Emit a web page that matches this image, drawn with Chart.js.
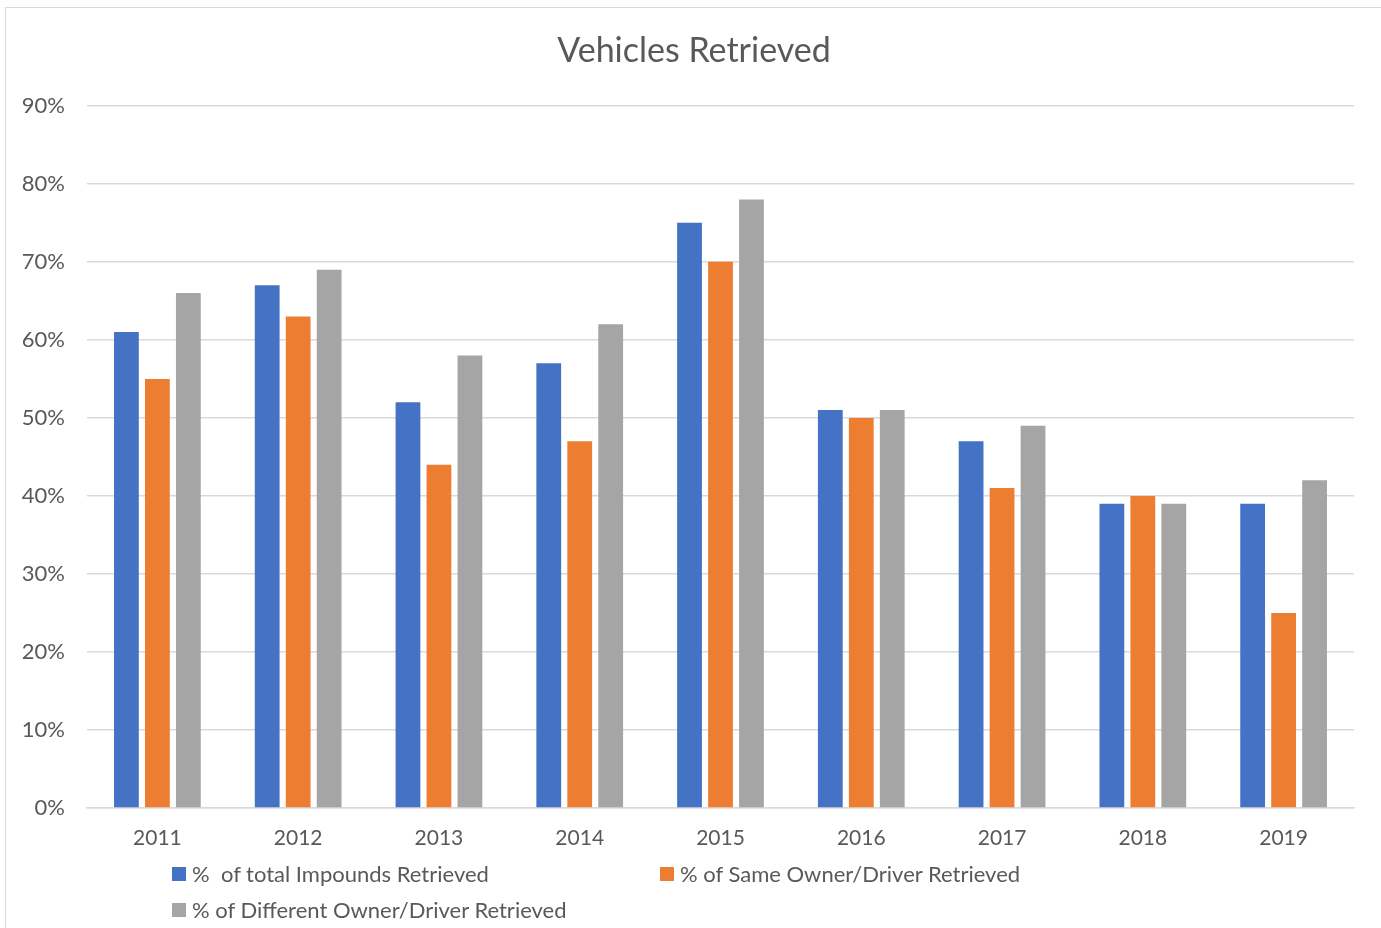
<!DOCTYPE html>
<html lang="en">
<head>
  <meta charset="UTF-8">
  <title>Vehicles Retrieved</title>
  <script src="https://cdn.jsdelivr.net/npm/chart.js"></script>
  <style>
    * { box-sizing: border-box; margin: 0; padding: 0; }
    body {
      width: 1381px;
      height: 928px;
      background: #fff;
      overflow: hidden;
      font-family: Lato, 'Open Sans', sans-serif;
      position: relative;
    }
    /* light frame around the chart, like the spreadsheet chart box */
    .frame {
      position: absolute;
      left: 5px;
      top: 7px;
      width: 1390px;
      height: 940px;
      border: 1.5px solid #d9d9d9;
    }
    #chart-wrap {
      position: absolute;
      left: 0;
      top: 0;
      width: 1381px;
      height: 928px;
    }
    .legend {
      position: absolute;
      color: #595959;
      font-size: 22px;
      display: flex;
      align-items: center;
      white-space: pre;
    }
    .legend .box {
      width: 14px;
      height: 14px;
      margin-right: 6px;
    }
  </style>
</head>
<body>
  <div class="frame"></div>
  <div id="chart-wrap">
    <canvas id="retrievedChart" width="1381" height="928"></canvas>
  </div>
  <div id="legend"></div>

  <script>
    const years = ['2011', '2012', '2013', '2014', '2015', '2016', '2017', '2018', '2019'];
    const totalRetrieved = [61, 67, 52, 57, 75, 51, 47, 39, 39];
    const sameOwnerRetrieved = [55, 63, 44, 47, 70, 50, 41, 40, 25];
    const diffOwnerRetrieved = [66, 69, 58, 62, 78, 51, 49, 39, 42];
    const yTicks = [0, 10, 20, 30, 40, 50, 60, 70, 80, 90];

    const seriesNames = [
      '%  of total Impounds Retrieved',
      '% of Same Owner/Driver Retrieved',
      '% of Different Owner/Driver Retrieved'
    ];
    const seriesColors = ['#4472c4', '#ed7d31', '#a5a5a5'];
    const legendSpots = [[172, 874], [660, 874], [172, 910]];

    const textColor = '#595959';
    const gridColor = '#d9d9d9';

    const datasets = [totalRetrieved, sameOwnerRetrieved, diffOwnerRetrieved].map((vals, i) => ({
      label: seriesNames[i],
      data: vals,
      backgroundColor: seriesColors[i],
      categoryPercentage: 0.66,
      barPercentage: 0.8
    }));

    const ctx = document.getElementById('retrievedChart').getContext('2d');
    new Chart(ctx, {
      type: 'bar',
      data: { labels: years, datasets },
      options: {
        responsive: false,
        animation: false,
        // title centres on the padded width, so pad left a bit and
        // keep the right margin with an empty spacer axis
        layout: { padding: { top: 18, right: 0, bottom: 70, left: 7 } },
        plugins: {
          legend: { display: false },
          tooltip: { enabled: false },
          title: {
            display: true,
            text: 'Vehicles Retrieved',
            color: textColor,
            font: { family: 'Lato', size: 34, weight: 'normal' },
            padding: { top: 13, bottom: 34 }
          }
        },
        scales: {
          x: {
            grid: { display: false, drawTicks: false },
            border: { color: gridColor, width: 1.5 },
            ticks: {
              color: textColor,
              font: { family: 'Lato', size: 21 },
              padding: 18
            },
            afterFit: s => { s.height = 50; }
          },
          y: {
            min: 0,
            max: 90,
            afterBuildTicks: s => { s.ticks = yTicks.map(v => ({ value: v })); },
            grid: { color: gridColor, lineWidth: 1.5, drawTicks: false },
            border: { display: false },
            ticks: {
              color: textColor,
              font: { family: 'Lato', size: 22 },
              padding: 22,
              callback: v => v + '%'
            },
            afterFit: s => { s.width = 80; }
          },
          spacer: {
            position: 'right',
            min: 0,
            max: 90,
            grid: { display: false },
            border: { display: false },
            ticks: { display: false },
            afterFit: s => { s.width = 27; }
          }
        }
      }
    });

    // legend drawn as HTML from the same series arrays
    const legendEl = document.getElementById('legend');
    seriesNames.forEach((name, i) => {
      const item = document.createElement('div');
      item.className = 'legend';
      item.style.left = legendSpots[i][0] + 'px';
      item.style.top = (legendSpots[i][1] - 14) + 'px';
      item.innerHTML = '<span class="box" style="background:' + seriesColors[i] + '"></span>' + name;
      legendEl.appendChild(item);
    });
  </script>
</body>
</html>
